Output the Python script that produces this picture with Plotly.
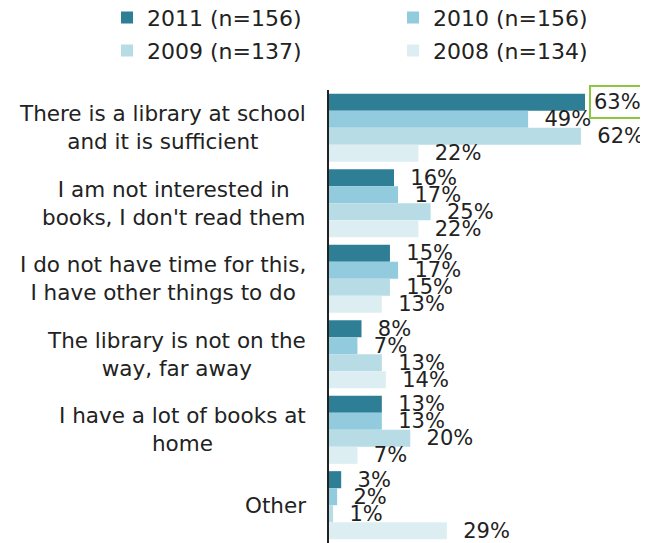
import plotly.graph_objects as go

categories = [
    "There is a library at school<br>and it is sufficient",
    "I am not interested in<br>books, I don't read them",
    "I do not have time for this,<br>I have other things to do",
    "The library is not on the<br>way, far away",
    "I have a lot of books at<br>home",
    "Other",
]
years = ["2011 (n=156)", "2010 (n=156)", "2009 (n=137)", "2008 (n=134)"]
v2011 = [63, 16, 15, 8, 13, 3]
v2010 = [49, 17, 17, 7, 13, 2]
v2009 = [62, 25, 15, 13, 20, 1]
v2008 = [22, 22, 13, 14, 7, 29]
colors = ["#2E7F96", "#92CBDD", "#B7DCE6", "#DDEEF3"]

FONT = "DejaVu Sans"
series = [v2011, v2010, v2009, v2008]
legend_ids = ["legend", "legend2", "legend3", "legend4"]

fig = go.Figure()
for i, (name, vals) in enumerate(zip(years, series)):
    labels = ["\u00a0\u00a0" + str(v) + "%" for v in vals]
    if i == 0:
        labels[0] = ""  # highlighted label drawn as boxed annotation
    fig.add_trace(go.Bar(
        y=categories, x=vals, name=name, orientation="h",
        marker=dict(color=colors[i], line=dict(width=0)),
        text=labels, textposition="outside", constraintext="none",
        textfont=dict(family=FONT, size=21, color="#222222"),
        cliponaxis=False, legend=legend_ids[i],
    ))

# boxed highlight on the top value
fig.add_annotation(
    x=v2011[0], y=categories[0], xref="x", yref="y",
    text=str(v2011[0]) + "%", showarrow=False, xanchor="left",
    xshift=4, yshift=26,
    font=dict(family=FONT, size=21, color="#222222"),
    bordercolor="#8DC63F", borderwidth=2, borderpad=3, bgcolor="white",
)

# category labels, centered lines
for c in categories:
    fig.add_annotation(
        x=0, y=c, xref="paper", yref="y", text=c, showarrow=False,
        xanchor="right", xshift=-21, align="center",
        font=dict(family=FONT, size=21.5, color="#222222"),
    )

leg_pos = [(0.1547, 0.9817), (0.6016, 0.9817), (0.1547, 0.9200), (0.6016, 0.9200)]
legend_layout = {}
for lid, (lx, ly) in zip(legend_ids, leg_pos):
    legend_layout[lid] = dict(
        x=lx, y=ly, xref="container", yref="container",
        xanchor="left", yanchor="middle", orientation="h",
        bgcolor="rgba(0,0,0,0)",
        font=dict(family=FONT, size=22, color="#222222"),
    )

# page body has an 8px default margin, so the figure is sized to fit the window
fig.update_layout(
    width=640, height=535,
    margin=dict(l=321, r=0, t=82, b=0, autoexpand=False),
    barmode="group", bargap=0.097, bargroupgap=0,
    plot_bgcolor="white", paper_bgcolor="white",
    font=dict(family=FONT, color="#222222"),
    xaxis=dict(range=[0, 78.5], visible=False, showgrid=False),
    yaxis=dict(autorange="reversed", showticklabels=False, ticks="",
               showline=True, linecolor="#222222", linewidth=2,
               showgrid=False, zeroline=False),
    showlegend=True,
    **legend_layout,
)

fig.write_html("out.html")
